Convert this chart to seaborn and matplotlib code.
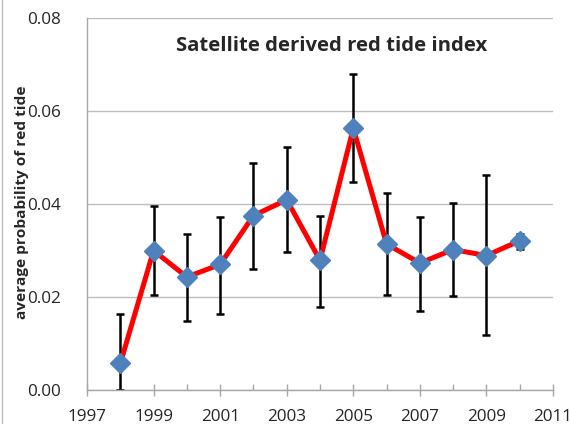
import numpy as np
import pandas as pd
import seaborn as sns
import matplotlib
matplotlib.use("Agg")
import matplotlib.pyplot as plt
from matplotlib.lines import Line2D

years = [1998, 1999, 2000, 2001, 2002, 2003, 2004, 2005, 2006, 2007, 2008, 2009, 2010]
index_values = [0.0057, 0.0300, 0.0243, 0.0270, 0.0375, 0.0409, 0.0279, 0.0563,
                0.0314, 0.0273, 0.0302, 0.0289, 0.0321]
err_upper = [0.0163, 0.0396, 0.0336, 0.0373, 0.0488, 0.0523, 0.0375, 0.0679,
             0.0423, 0.0373, 0.0402, 0.0463, 0.0336]
err_lower = [0.0000, 0.0204, 0.0148, 0.0164, 0.0261, 0.0296, 0.0179, 0.0448,
             0.0204, 0.0169, 0.0202, 0.0118, 0.0304]
x_ticks = [1997, 1999, 2001, 2003, 2005, 2007, 2009, 2011]
x_minor_ticks = [1998, 2000, 2002, 2004, 2006, 2008, 2010]
y_ticks = [0.00, 0.02, 0.04, 0.06, 0.08]

df = pd.DataFrame({"year": years, "value": index_values,
                   "upper": err_upper, "lower": err_lower})

sns.set_theme(style="white")
plt.rcParams['font.family'] = ['Open Sans', 'DejaVu Sans']

fig = plt.figure(figsize=(5.7, 4.24), dpi=100)
ax = fig.add_axes([87/570, 1 - 390/424, (553-87)/570, (390-18)/424])

yerr = np.vstack([df["value"] - df["lower"], df["upper"] - df["value"]])
ax.errorbar(df["year"], df["value"], yerr=yerr, fmt="none", ecolor="black",
            elinewidth=1.8, capsize=3, capthick=1.8, zorder=2)
sns.lineplot(data=df, x="year", y="value", ax=ax, color="#FF0000", linewidth=3.6,
             zorder=3)
ax.plot(df["year"], df["value"], linestyle="none", marker="D", markersize=10,
        color="#4F81BD", markeredgecolor="#4F81BD", zorder=4)

ax.set_xlim(1997, 2011)
ax.set_ylim(0, 0.08)
ax.set_xticks(x_ticks)
ax.set_xticks(x_minor_ticks, minor=True)
ax.set_yticks(y_ticks)
ax.set_yticklabels([f"{v:.2f}" for v in y_ticks])
ax.grid(axis="y", color="#BEBEBE", linewidth=1)
ax.set_axisbelow(True)
for s in ["top", "right"]:
    ax.spines[s].set_visible(False)
for s in ["left", "bottom"]:
    ax.spines[s].set_color("#A6A6A6")
    ax.spines[s].set_linewidth(1)
ax.tick_params(axis="x", which="major", bottom=True, direction="inout", length=8,
               color="#A6A6A6", width=1, labelsize=12.3, pad=10)
ax.tick_params(axis="x", which="minor", bottom=True, direction="in", length=4,
               color="#A6A6A6", width=1)
ax.tick_params(axis="y", left=False, labelsize=12.3, pad=12.5)
ax.set_xlabel("")
ax.set_ylabel("average probability of red tide", fontsize=11.1, fontweight="bold")
ax.yaxis.set_label_coords(-0.124, 0.505)
ax.text(0.524, 0.925, "Satellite derived red tide index", transform=ax.transAxes,
        ha="center", va="center", fontsize=14.6, fontweight="bold")

fig.add_artist(Line2D([1.5/570, 1.5/570], [0, 1], color="#BEBEBE", linewidth=1,
                      transform=fig.transFigure))

fig.savefig("out.png", dpi=100)
